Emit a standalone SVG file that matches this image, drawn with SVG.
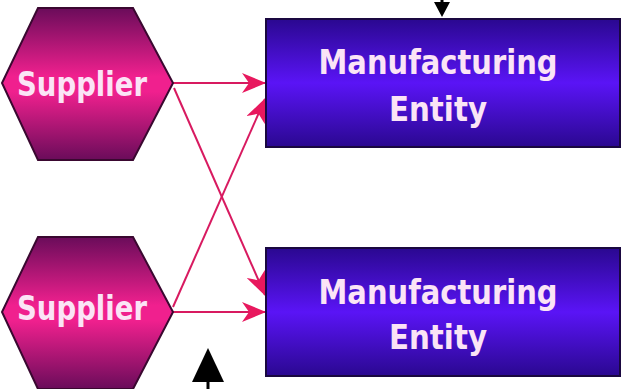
<svg xmlns="http://www.w3.org/2000/svg" width="625" height="389" viewBox="0 0 625 389">
<defs>
<linearGradient id="hexg" x1="0" y1="0" x2="0" y2="1">
<stop offset="0" stop-color="#6a0c5a"/>
<stop offset="0.45" stop-color="#f0208e"/>
<stop offset="0.55" stop-color="#f0208e"/>
<stop offset="1" stop-color="#6a0c5a"/>
</linearGradient>
<linearGradient id="rectg" x1="0" y1="0" x2="0" y2="1">
<stop offset="0" stop-color="#2a0890"/>
<stop offset="0.5" stop-color="#5a14f6"/>
<stop offset="1" stop-color="#2a0890"/>
</linearGradient>
<marker id="ah" markerWidth="24" markerHeight="20" viewBox="0 0 24 20" refX="23" refY="10" orient="auto" markerUnits="userSpaceOnUse">
<path d="M0,0 L24,10 L0,20 L7,10 Z" fill="#e8185e"/>
</marker>
<style>
.hex{fill:url(#hexg);stroke:#3a0830;stroke-width:2}
.box{fill:url(#rectg);stroke:#1a0840;stroke-width:2}
.lbl{font-family:"DejaVu Sans","Liberation Sans",sans-serif;font-weight:bold;fill:#fbe4f6;text-anchor:middle;font-size:33px}
.conn{stroke:#d81a60;stroke-width:2;fill:none}
</style>
</defs>
<g id="connectors">
<line class="conn" x1="173" y1="83" x2="265" y2="83" marker-end="url(#ah)"/>
<line class="conn" x1="174" y1="88" x2="265" y2="295" marker-end="url(#ah)"/>
<line class="conn" x1="173" y1="307" x2="265" y2="99" marker-end="url(#ah)"/>
<line class="conn" x1="173" y1="312" x2="265" y2="312" marker-end="url(#ah)"/>
<g id="ext-top">
<line x1="442" y1="0" x2="442" y2="12" stroke="#000" stroke-width="3"/>
<path d="M434,2 L450,2 L442,17 Z" fill="#000"/>
</g>
<g id="ext-bottom">
<path d="M208,348 L224,382 L192,382 Z" fill="#000"/>
<line x1="208" y1="380" x2="208" y2="389" stroke="#000" stroke-width="3"/>
</g>
</g>
<g id="supplier1">
<polygon class="hex" points="38,8 133,8 173,83 133,160 38,160 2,83"/>
<text class="lbl" x="82" y="96" textLength="130" lengthAdjust="spacingAndGlyphs">Supplier</text>
</g>
<g id="supplier2">
<polygon class="hex" points="38,237 133,237 173,312 133,389 38,389 2,312"/>
<text class="lbl" x="82" y="320" textLength="130" lengthAdjust="spacingAndGlyphs">Supplier</text>
</g>
<g id="entity1">
<rect class="box" x="266" y="19" width="354" height="128"/>
<text class="lbl" x="438" y="74" textLength="239" lengthAdjust="spacingAndGlyphs">Manufacturing</text>
<text class="lbl" x="438" y="121" textLength="98" lengthAdjust="spacingAndGlyphs">Entity</text>
</g>
<g id="entity2">
<rect class="box" x="266" y="248" width="354" height="128"/>
<text class="lbl" x="438" y="304" textLength="239" lengthAdjust="spacingAndGlyphs">Manufacturing</text>
<text class="lbl" x="438" y="349" textLength="98" lengthAdjust="spacingAndGlyphs">Entity</text>
</g>
</svg>
